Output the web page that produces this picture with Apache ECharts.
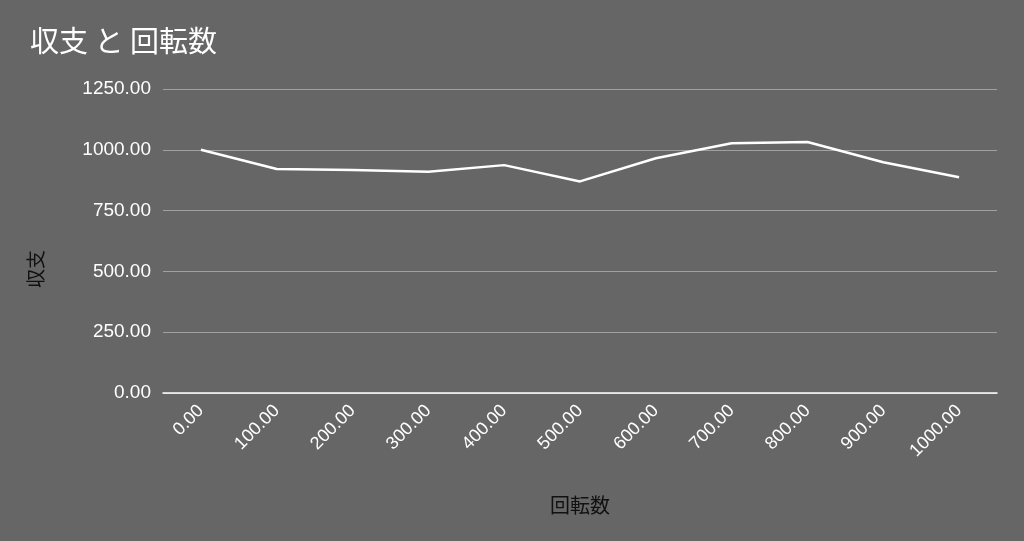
<!DOCTYPE html>
<html><head><meta charset="utf-8">
<script src="https://cdn.jsdelivr.net/npm/echarts@6/dist/echarts.min.js"></script>
<style>html,body{margin:0;padding:0;background:#666666;}#c{width:1024px;height:541px;}</style>
</head><body><div id="c"></div>
<script>
const categories = ['0.00','100.00','200.00','300.00','400.00','500.00','600.00','700.00','800.00','900.00','1000.00'];
const values = [1000, 921, 917, 910, 937, 870, 965, 1027, 1032, 949, 887];
const titleText = '収支 と 回転数';
const xName = '回転数';
const yName = '収支';
const chart = echarts.init(document.getElementById('c'));
const cjk = '"Noto Sans CJK JP", "Noto Sans", sans-serif';
const num = '"Liberation Sans", Arial, sans-serif';
chart.setOption({
  backgroundColor: '#666666',
  animation: false,
  title: { text: titleText, left: 25, top: 21, textStyle: { color: '#ffffff', fontSize: 29, fontWeight: 'normal', fontFamily: cjk } },
  grid: { left: 163, right: 27, top: 89, bottom: 148 },
  graphic: [
    { type: 'text', x: 36, y: 269, rotation: Math.PI / 2,
      style: { text: yName, fill: '#111111', font: '19px ' + cjk, align: 'center', verticalAlign: 'middle' } }
  ],
  xAxis: {
    type: 'category', data: categories, boundaryGap: true,
    name: xName, nameLocation: 'middle', nameGap: 102,
    nameTextStyle: { color: '#111111', fontSize: 20, fontFamily: cjk },
    axisLine: { lineStyle: { color: '#ffffff', width: 1.5 } },
    axisTick: { show: false },
    axisLabel: { color: '#ffffff', fontSize: 18, rotate: 45, margin: 15, fontFamily: num, interval: 0 }
  },
  yAxis: {
    type: 'value', min: 0, max: 1250, interval: 250,
    axisLine: { show: false }, axisTick: { show: false },
    axisLabel: { color: '#ffffff', fontSize: 19, margin: 12, fontFamily: num, formatter: v => v.toFixed(2) },
    splitLine: { lineStyle: { color: '#a0a0a0', width: 1 } }
  },
  series: [{ type: 'line', data: values, showSymbol: false, symbol: 'none', lineStyle: { color: '#ffffff', width: 2.5 } }]
});
</script></body></html>
